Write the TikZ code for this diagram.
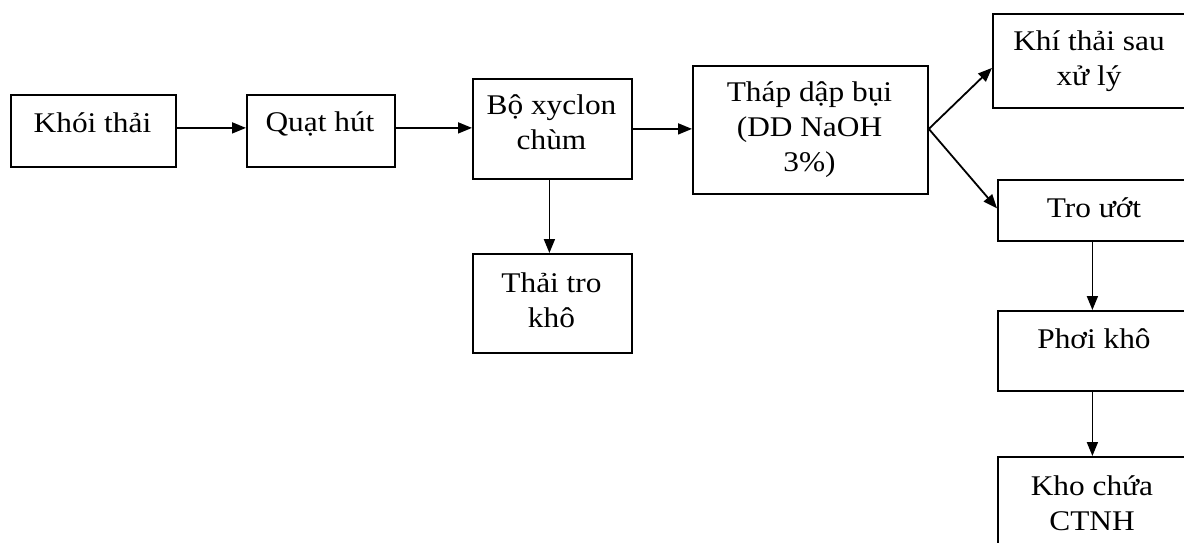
\documentclass[tikz,border=0pt]{standalone}
\usepackage{fontspec}
\setmainfont{Liberation Serif}[FakeStretch=1.1]
\usetikzlibrary{arrows.meta}
\begin{document}
\begin{tikzpicture}[x=1pt,y=-1pt,
  box/.style={draw, line width=1.8pt, rectangle, inner sep=0pt, anchor=north west},
  lbl/.style={font=\fontsize{28.5}{35}\selectfont, align=center, inner sep=0pt},
  arr/.style={line width=1.8pt, -{Triangle[length=14pt,width=11pt]}}]
\useasboundingbox (0,0) rectangle (1184,542);
\clip (0,0) rectangle (1184,542);
% boxes
\node[box, minimum width=165pt, minimum height=72pt] (A) at (10,94) {};
\node[box, minimum width=148pt, minimum height=72pt] (B) at (246,94) {};
\node[box, minimum width=159pt, minimum height=100pt] (C) at (472,78) {};
\node[box, minimum width=159pt, minimum height=99pt] (D) at (472,253) {};
\node[box, minimum width=235pt, minimum height=128pt] (E) at (692,65) {};
\node[box, minimum width=200pt, minimum height=94pt] (F) at (992,13) {};
\node[box, minimum width=190pt, minimum height=61pt] (G) at (997,179) {};
\node[box, minimum width=190pt, minimum height=80pt] (H) at (997,310) {};
\node[box, minimum width=190pt, minimum height=110pt] (I) at (997,456) {};
% labels
\node[lbl] (tA) at (92.5,123) {Khói thải};
\node[lbl] (tB) at (320,124) {Quạt hút};
\node[lbl] (tC) at (551.5,122) {Bộ xyclon\\chùm};
\node[lbl] (tD) at (551.5,300) {Thải tro\\khô};
\node[lbl] (tE) at (809.5,130) {Tháp dập bụi\\(DD NaOH\\3\%)};
\node[lbl] (tF) at (1089,61) {Khí thải sau\\xử lý};
\node[lbl] (tG) at (1094,208) {Tro ướt};
\node[lbl] (tH) at (1094,339) {Phơi khô};
\node[lbl] (tI) at (1092,503) {Kho chứa\\CTNH};
% connectors
\draw[arr] ([yshift=3pt]A.east) -- ([yshift=3pt]B.west);
\draw[arr] ([yshift=3pt]B.east) -- ([yshift=3pt]B.east -| C.west);
\draw[arr] (C.east) -- (C.east -| E.west);
\draw[arr] ([xshift=-3pt]C.south) -- ([xshift=-3pt]D.north);
\coordinate (fork) at ([yshift=1pt]E.east);
\draw[arr] (fork) -- ([yshift=-7pt]F.west);
\draw[arr] (fork) -- ([yshift=2pt]G.west);
\draw[arr] ([xshift=-0.5pt]G.south) -- ([xshift=-0.5pt]H.north);
\draw[arr] ([xshift=-0.5pt]H.south) -- ([xshift=-0.5pt]I.north);
\end{tikzpicture}
\end{document}
